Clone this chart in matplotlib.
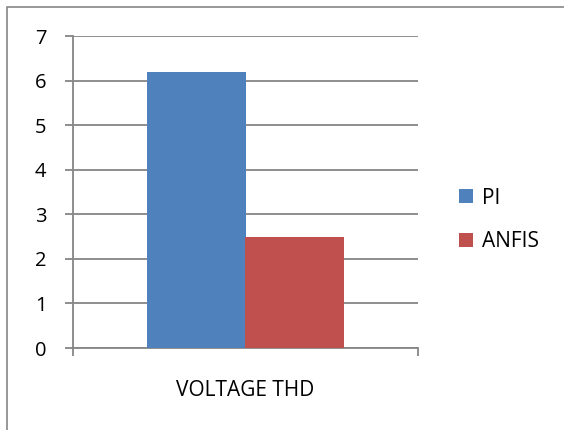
import matplotlib
matplotlib.use("Agg")
import matplotlib.pyplot as plt
from matplotlib.patches import Rectangle

categories = ["VOLTAGE THD"]
series_names = ["PI", "ANFIS"]
pi_values = [6.2]
anfis_values = [2.5]
yticks = [0, 1, 2, 3, 4, 5, 6, 7]

plt.rcParams['font.family'] = ['Open Sans', 'DejaVu Sans']
fig = plt.figure(figsize=(5.64, 4.30), dpi=100)
fig.patches.append(Rectangle((7/564, -0.1), 1.2, 1 - 7/430 + 0.1, transform=fig.transFigure,
                             fill=False, edgecolor='#868686', linewidth=1.2))

ax = fig.add_axes([73/564, 1 - 348/430, (418-73)/564, (348-36)/430])
w = 0.285
gc = '#868686'
ax.bar([-w/2], pi_values, width=w, color='#4F81BD', label=series_names[0], zorder=3)
ax.bar([w/2], anfis_values, width=w, color='#C0504D', label=series_names[1], zorder=3)
ax.set_xlim(-0.5, 0.5)
ax.set_ylim(0, 7)
ax.set_yticks(yticks)
ax.set_yticklabels([str(v) for v in yticks])
ax.yaxis.grid(True, color=gc, linewidth=1.3, zorder=0)
ax.set_axisbelow(True)
for s in ['top', 'right']:
    ax.spines[s].set_visible(False)
for s in ['left', 'bottom']:
    ax.spines[s].set_color(gc)
    ax.spines[s].set_linewidth(1.3)
ax.tick_params(axis='y', length=6, width=1.3, color=gc, labelsize=14.5, pad=13)
ax.set_xticks([-0.5, 0.5])
ax.set_xticklabels(['', ''])
ax.tick_params(axis='x', length=6, width=1.3, color=gc)
ax.text(0, -0.135, categories[0], transform=ax.get_xaxis_transform(),
        ha='center', va='center', fontsize=15)

leg = ax.legend(loc='center left', bbox_to_anchor=(1 + (459-418)/345, (348-220)/312),
                frameon=False, borderpad=0, borderaxespad=0,
                fontsize=15, handlelength=0.67, handleheight=0.67,
                handletextpad=0.43, labelspacing=1.1)
fig.savefig("out.png", dpi=100)
